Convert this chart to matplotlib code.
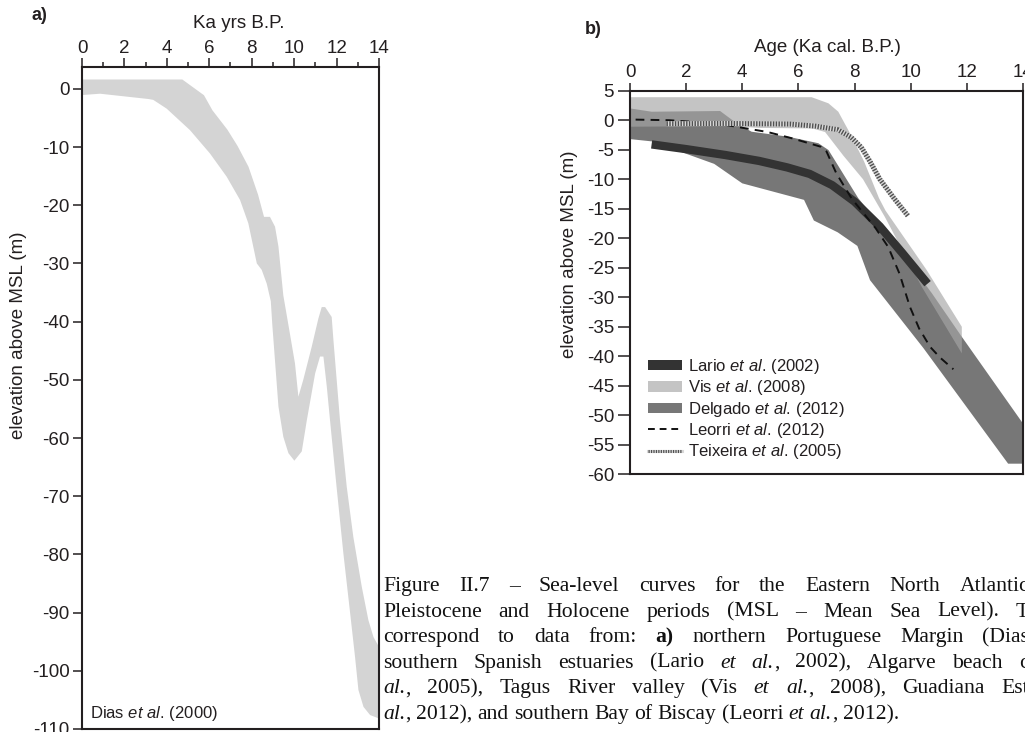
import matplotlib
matplotlib.use("Agg")
import matplotlib.pyplot as plt
from matplotlib.patches import Patch
from matplotlib.lines import Line2D
import numpy as np

plt.rcParams['font.family'] = ['Liberation Sans', 'DejaVu Sans']
plt.rcParams['axes.unicode_minus'] = False
plt.rcParams['mathtext.fontset'] = 'custom'
plt.rcParams['mathtext.rm'] = 'Liberation Sans'
plt.rcParams['mathtext.it'] = 'Liberation Sans:italic'
plt.rcParams['mathtext.bf'] = 'Liberation Sans:bold'

INK = '#231f20'

# ---------------- Panel a: Dias et al. (2000) envelope ----------------
dias_upper_age = [0.0, 4.73, 5.75, 6.15, 6.85, 7.33, 7.85, 8.3, 8.58, 8.86, 9.1, 9.26, 9.49, 9.75,
                  10.04, 10.2, 10.43, 10.83, 11.14, 11.3, 11.46, 11.77, 11.85, 12.16, 12.48, 12.79,
                  13.19, 13.5, 13.74, 14.0]
dias_upper_elev = [1.6, 1.6, -1.1, -3.7, -7.0, -9.8, -13.4, -18.2, -22.0, -22.0, -23.7, -27.1, -35.5, -41.0,
                   -47.2, -52.9, -50.0, -44.3, -39.5, -37.5, -37.5, -39.2, -43.1, -56.9, -68.4, -77.0,
                   -85.6, -91.3, -94.2, -95.9]
dias_lower_age = [14.0, 13.58, 13.27, 13.03, 12.87, 12.64, 12.32, 12.0, 11.69, 11.54, 11.38, 11.22,
                  10.99, 10.6, 10.36, 10.01, 9.73, 9.49, 9.26, 8.97, 8.9, 8.71, 8.47, 8.24, 7.84, 7.45,
                  6.82, 6.03, 5.09, 3.99, 3.36, 3.13, 0.85, 0.0]
dias_lower_elev = [-108.2, -107.6, -106.2, -103.3, -97.6, -90.1, -79.8, -68.4, -56.9, -51.2, -46.0, -46.0,
                   -48.9, -56.9, -62.3, -63.9, -62.6, -59.8, -54.6, -40.5, -36.5, -33.5, -31.1, -30.0,
                   -23.1, -19.1, -15.1, -11.1, -7.1, -3.4, -1.9, -1.75, -0.84, -1.07]

a_xticks = [0, 2, 4, 6, 8, 10, 12, 14]
a_xminor = [1, 3, 5, 7, 9, 11, 13]
a_yticks = [0, -10, -20, -30, -40, -50, -60, -70, -80, -90, -100, -110]

# ---------------- Panel b ----------------
vis_top_age = [0.0, 6.47, 7.07, 7.42, 7.87, 8.34, 8.87, 9.1, 10.57, 11.82]
vis_top_elev = [3.9, 3.9, 2.86, 1.44, -2.5, -7.0, -13.2, -15.3, -25.4, -35.0]
vis_low_age = [0.0, 3.6, 4.6, 6.5, 6.95, 7.6, 8.3, 9.08, 10.39, 11.82]
vis_low_elev = [-1.1, -1.0, -1.3, -1.4, -2.0, -6.0, -10.0, -16.4, -28.2, -39.5]

delg_top_age = [0.0, 0.77, 3.21, 3.8, 4.33, 5.64, 6.71, 7.07, 8.13, 8.91, 10.0, 10.75, 11.82, 14.0]
delg_top_elev = [2.0, 1.44, 1.56, -0.53, -1.95, -2.8, -3.9, -5.05, -13.2, -17.8, -24.5, -29.3, -36.7, -51.4]
delg_low_age = [0.0, 0.8, 1.6, 3.0, 4.0, 6.2, 6.55, 7.4, 8.1, 8.55, 10.45, 13.47, 14.0]
delg_low_elev = [-3.2, -3.6, -5.0, -7.4, -10.7, -13.5, -17.0, -19.0, -21.3, -27.1, -38.6, -58.2, -58.2]

lario_age = [0.77, 2.0, 3.4, 4.6, 5.6, 6.4, 7.2, 8.0, 8.9, 9.7, 10.6]
lario_elev = [-4.1, -4.9, -5.9, -6.9, -8.0, -9.1, -11.0, -13.8, -18.0, -22.5, -27.7]

leorri_age = [0.2, 1.4, 2.3, 3.1, 3.9, 4.9, 5.8, 6.8, 7.0, 7.35, 7.9, 8.75, 9.2, 9.6, 9.97, 10.3,
              10.69, 11.04, 11.52]
leorri_elev = [0.1, 0.0, -0.3, -0.55, -1.2, -2.0, -3.1, -4.5, -5.3, -9.0, -13.3, -18.3, -21.5, -26.0,
               -31.6, -35.3, -38.4, -40.2, -42.2]

teix_age = [1.3, 3.4, 5.7, 6.6, 7.4, 7.88, 8.24, 8.55, 8.9, 9.4, 9.7, 9.9]
teix_elev = [-0.6, -0.55, -0.65, -1.0, -1.6, -2.9, -4.6, -7.0, -10.0, -13.2, -15.0, -16.2]

b_xticks = [0, 2, 4, 6, 8, 10, 12, 14]
b_yticks = [5, 0, -5, -10, -15, -20, -25, -30, -35, -40, -45, -50, -55, -60]

legend_labels = ['Lario $\\mathit{et\\ al.}\\!$ (2002)',
                 'Vis $\\mathit{et\\ al.}\\!$ (2008)',
                 'Delgado $\\mathit{et\\ al.}\\!$ (2012)',
                 'Leorri $\\mathit{et\\ al.}\\!$ (2012)',
                 'Teixeira $\\mathit{et\\ al.}\\!$ (2005)']

caption_lines = [
    ([("Figure II.7 \u2013 Sea-level curves for the Eastern North Atlantic", "n")], True),
    ([("Pleistocene and Holocene periods (MSL \u2013 Mean Sea Level). T", "n")], True),
    ([("correspond to data from: ", "n"), ("a)", "b"), (" northern Portuguese Margin (Dias", "n")], True),
    ([("southern Spanish estuaries (Lario ", "n"), ("et al.", "i"), (", 2002), Algarve beach c", "n")], True),
    ([("al.", "i"), (", 2005), Tagus River valley (Vis ", "n"), ("et al.", "i"), (", 2008), Guadiana Est", "n")], True),
    ([("al.", "i"), (", 2012), and southern Bay of Biscay (Leorri ", "n"), ("et al.", "i"), (", 2012).", "n")], False),
]

# ---------------- figure ----------------
W, H = 1025, 732
fig = plt.figure(figsize=(W / 100, H / 100), dpi=100)


def fx(px):
    return px / W


def fy(py):
    return 1 - py / H


def style_axes(ax):
    for s in ['top', 'bottom', 'left', 'right']:
        ax.spines[s].set_linewidth(1.5)
        ax.spines[s].set_color(INK)
    ax.xaxis.tick_top()
    ax.xaxis.set_label_position('top')


# Panel a
axa = fig.add_axes([fx(82), fy(729), fx(379) - fx(82), fy(67) - fy(729)])
axa.fill(np.r_[dias_upper_age, dias_lower_age], np.r_[dias_upper_elev, dias_lower_elev],
         color='#d4d4d4', lw=0)
axa.set_xlim(0, 14)
axa.set_ylim(-110, 3.75)
style_axes(axa)
axa.set_xticks(a_xticks)
axa.set_xticks(a_xminor, minor=True)
axa.set_yticks(a_yticks)
axa.tick_params(axis='x', which='major', length=6.5, width=1.1, pad=1, labelsize=13.5,
                colors=INK, top=True, bottom=False)
axa.tick_params(axis='x', which='minor', length=3.5, width=1.1, top=True, bottom=False, colors=INK)
axa.tick_params(axis='y', which='major', length=6.5, width=1.1, pad=2.5, labelsize=13.5, colors=INK)
fig.text(fx(239), fy(23), 'Ka yrs B.P.', ha='center', va='center', fontsize=13.5, color=INK)
fig.text(fx(19), fy(335), 'elevation above MSL (m)', rotation=90, ha='center', va='center',
         fontsize=13.5, color=INK)
fig.text(fx(39), fy(16), 'a)', ha='center', va='center', fontsize=13, weight='bold', color=INK)
fig.text(fx(90), fy(718), 'Dias $\\mathit{et\\ al.}\\!$ (2000)', ha='left', va='baseline',
         fontsize=12, color=INK)

# Panel b
axb = fig.add_axes([fx(630), fy(474.3), fx(1023) - fx(630), fy(90.7) - fy(474.3)])
col_lario, col_vis, col_delg = '#333333', '#c4c4c4', '#777777'
axb.fill(np.r_[delg_top_age, delg_low_age[::-1]], np.r_[delg_top_elev, delg_low_elev[::-1]],
         color=col_delg, lw=0, zorder=1)
axb.fill(np.r_[vis_top_age, vis_low_age[::-1]], np.r_[vis_top_elev, vis_low_elev[::-1]],
         color='#a6a6a6', alpha=0.66, lw=0, zorder=2)
axb.plot(lario_age, lario_elev, color=col_lario, lw=6, solid_capstyle='butt',
         solid_joinstyle='round', zorder=3)
axb.plot(leorri_age, leorri_elev, color='#111111', lw=1.4, dashes=(4.5, 3.2), zorder=4)
axb.plot(teix_age, teix_elev, color='#d8d8d8', lw=3.6, solid_capstyle='butt', zorder=5)
axb.plot(teix_age, teix_elev, color='#505050', lw=3.6, dashes=(0.28, 0.28), dash_capstyle='butt',
         zorder=6)
axb.set_xlim(0, 14)
axb.set_ylim(-60, 5)
style_axes(axb)
axb.set_xticks(b_xticks)
axb.set_yticks(b_yticks)
axb.tick_params(axis='x', length=5.8, width=1.1, pad=1.5, labelsize=13.5, colors=INK,
                top=True, bottom=False)
axb.tick_params(axis='y', length=8.5, width=1.1, pad=3, labelsize=13.5, colors=INK)
fig.text(fx(827), fy(47), 'Age (Ka cal. B.P.)', ha='center', va='center', fontsize=13.5, color=INK)
fig.text(fx(569), fy(254), 'elevation above MSL (m)', rotation=90, ha='center', va='center',
         fontsize=13.5, color=INK)
fig.text(fx(593), fy(29), 'b)', ha='center', va='center', fontsize=13, weight='bold', color=INK)

handles = [
    Patch(facecolor=col_lario, edgecolor='none'),
    Patch(facecolor=col_vis, edgecolor='none'),
    Patch(facecolor=col_delg, edgecolor='none'),
    Line2D([], [], color='#111111', lw=1.4, dashes=(3.5, 2.5)),
    (Line2D([], [], color='#d8d8d8', lw=2.2),
     Line2D([], [], color='#505050', lw=2.2, dashes=(0.4, 0.4), dash_capstyle='butt')),
]
leg = axb.legend(handles, legend_labels, loc='upper left', bbox_to_anchor=(fx(648), fy(357)),
                 bbox_transform=fig.transFigure, frameon=False, fontsize=12, borderpad=0,
                 borderaxespad=0, handlelength=2.05, handleheight=0.6, handletextpad=0.36,
                 labelspacing=0.14)
for t in leg.get_texts():
    t.set_color(INK)

# ---------------- caption (justified serif text) ----------------
CAP_FS = 15.6
CAP_LEFT = 383
CAP_RIGHT = 1029
CAP_BASE0 = 591
CAP_PITCH = 25.6
renderer = fig.canvas.get_renderer()


def piece_kw(st):
    return dict(fontsize=CAP_FS, family='Liberation Serif',
                style='italic' if st == 'i' else 'normal',
                weight='bold' if st == 'b' else 'normal', color='#111111')


def measure(txt, st):
    t = fig.text(0, 0, txt, **piece_kw(st))
    w = t.get_window_extent(renderer).width
    t.remove()
    return w


space_w = measure('x x', 'n') - measure('xx', 'n')

for li, (runs, justify) in enumerate(caption_lines):
    words = [[]]
    for text, st in runs:
        parts = text.split(' ')
        for k, p in enumerate(parts):
            if k > 0:
                words.append([])
            if p:
                words[-1].append((p, st))
    words = [w for w in words if w]
    widths = [[measure(p, st) for p, st in w] for w in words]
    total = sum(sum(ws) for ws in widths)
    if justify and len(words) > 1:
        gap = (CAP_RIGHT - CAP_LEFT - total) / (len(words) - 1)
    else:
        gap = space_w
    x = CAP_LEFT
    base = CAP_BASE0 + li * CAP_PITCH
    for w, ws in zip(words, widths):
        for (p, st), pw in zip(w, ws):
            fig.text(fx(x), fy(base), p, ha='left', va='baseline', **piece_kw(st))
            x += pw
        x += gap

fig.savefig('out.png', dpi=100)
